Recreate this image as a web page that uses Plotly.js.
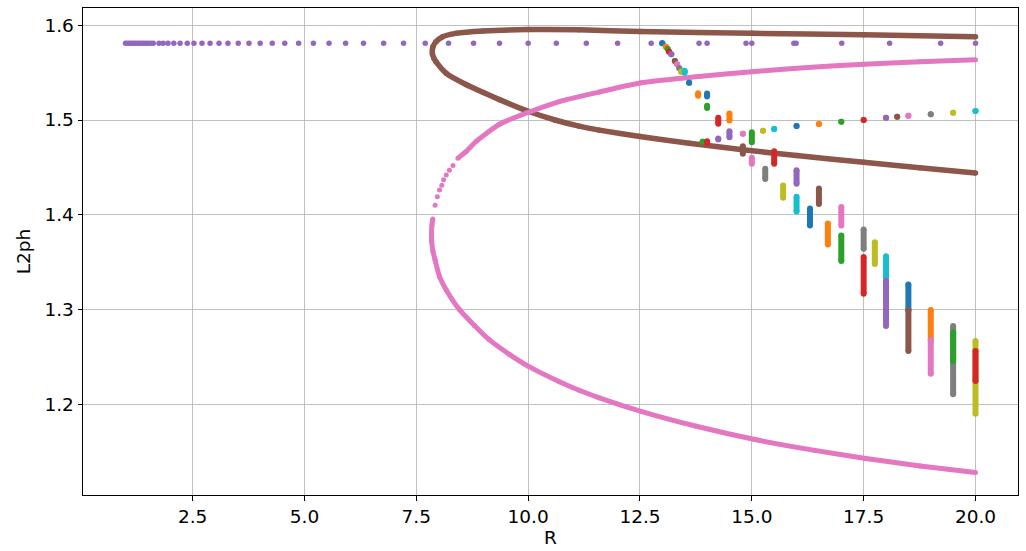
<!DOCTYPE html>
<html>
<head>
<meta charset="utf-8">
<script src="https://cdn.plot.ly/plotly-3.0.1.min.js"></script>
<style>
  html, body { margin: 0; padding: 0; background: #ffffff; }
  #chart { width: 1026px; height: 551px; }
</style>
</head>
<body>
<div id="chart"></div>
<script>
// Trivial branch: L2ph stays flat across R
const trivialR = [1.0, 1.04, 1.09, 1.13, 1.18, 1.22, 1.27, 1.31, 1.36, 1.41, 1.46, 1.51, 1.57, 1.62,
  1.75, 1.84, 1.95, 2.08, 2.22, 2.38, 2.53, 2.71, 2.89, 3.09, 3.29, 3.52, 3.76, 4.01, 4.28, 4.56,
  4.87, 5.2, 5.55, 5.92, 6.32, 6.77, 7.215, 7.7, 8.22, 8.78, 9.36, 10.0, 10.63, 11.3, 12.0, 12.75,
  12.99, 13.82, 14.0, 14.87, 15.0, 15.94, 15.99, 17.01, 18.08, 19.22, 20.0];
const trivialL2ph = 1.581;

// Fold branch (brown), traced from the upper-right end round the turning point to the lower-right end
const foldR = [20.0, 17.5, 15.0, 12.5, 11.14, 10.0, 8.99, 8.39, 8.09, 7.94, 7.87, 7.86, 7.89, 7.94,
  8.17, 8.61, 9.0, 9.36, 10.0, 10.6, 11.14, 11.59, 12.5, 13.6, 14.8, 16.0, 17.5, 18.75, 20.0];
const foldL2ph = [1.588, 1.590, 1.5915, 1.5935, 1.5953, 1.5955, 1.594, 1.5915, 1.588, 1.5827, 1.577,
  1.570, 1.5655, 1.5616, 1.5493, 1.5375, 1.529, 1.5215, 1.5092, 1.500, 1.4935, 1.4893, 1.4825,
  1.4755, 1.4685, 1.4625, 1.4553, 1.4495, 1.444];

// Second fold branch (pink): dense lower part, sparse points near the turn, dense upper part
const bendLowR = [7.87, 7.85, 7.84, 7.845, 7.87, 7.92, 8.02, 8.17, 8.46, 8.8, 9.13, 9.58, 10.0,
  10.7, 11.14, 11.59, 12.54, 13.76, 15.07, 16.41, 17.55, 18.76, 20.0];
const bendLowL2ph = [1.3955, 1.389, 1.381, 1.372, 1.362, 1.352, 1.3345, 1.3205, 1.300, 1.283, 1.268,
  1.2525, 1.240, 1.2235, 1.2145, 1.2065, 1.192, 1.1765, 1.1625, 1.151, 1.1425, 1.1345, 1.1276];
const bendSparseR = [7.92, 7.97, 8.02, 8.07, 8.11, 8.17, 8.24, 8.32];
const bendSparseL2ph = [1.410, 1.419, 1.426, 1.431, 1.437, 1.442, 1.447, 1.452];
const bendHighR = [8.43, 8.61, 8.84, 9.36, 10.0, 10.7, 11.59, 12.5, 13.82, 15.0, 16.25, 17.5, 18.75,
  20.0];
const bendHighL2ph = [1.4595, 1.4665, 1.4775, 1.4955, 1.508, 1.5195, 1.5295, 1.539, 1.546, 1.551,
  1.5555, 1.5588, 1.5615, 1.5637];

// Solution clusters: for each R, the highest and lowest L2ph found, and the series it belongs to
const clusterR = [13.0, 13.08, 13.12, 13.15, 13.2, 13.28, 13.33, 13.38, 13.42, 13.5, 13.6, 13.8,
  14.0, 14.0, 13.9, 14.0, 14.25, 14.25, 14.5, 14.5, 14.8, 14.8, 15.0, 15.0, 15.25, 15.3, 15.5, 15.5,
  15.7, 16.0, 16.0, 16.0, 16.3, 16.5, 16.5, 16.7, 17.0, 17.0, 17.0, 17.5, 17.5, 17.5, 17.75, 18.0,
  18.0, 18.0, 18.25, 18.5, 18.5, 18.5, 19.0, 19.0, 19.0, 19.5, 19.5, 19.5, 20.0, 20.0, 20.0];
const clusterHigh = [1.581, 1.5774, 1.575, 1.572, 1.5694, 1.5623, 1.5588, 1.5546, 1.551, 1.552,
  1.5394, 1.5283, 1.528, 1.515, 1.477, 1.4775, 1.5023, 1.4805, 1.5068, 1.4882, 1.4855, 1.4724,
  1.487, 1.460, 1.4887, 1.4484, 1.4905, 1.467, 1.4308, 1.4937, 1.447, 1.4188, 1.4065, 1.4958,
  1.4276, 1.3907, 1.4982, 1.408, 1.378, 1.500, 1.3843, 1.3552, 1.371, 1.5024, 1.3562, 1.3303,
  1.5035, 1.5045, 1.3263, 1.2993, 1.506, 1.2992, 1.2677, 1.5077, 1.2823, 1.2759, 1.5095, 1.2665,
  1.2559];
const clusterLow = [1.581, 1.5774, 1.575, 1.572, 1.5694, 1.5623, 1.5588, 1.5546, 1.551, 1.550,
  1.5394, 1.5256, 1.5248, 1.5128, 1.477, 1.4755, 1.496, 1.4795, 1.4995, 1.4819, 1.4855, 1.4643,
  1.4766, 1.4537, 1.4887, 1.4378, 1.4905, 1.4537, 1.4178, 1.4937, 1.4326, 1.4034, 1.3886, 1.4958,
  1.4114, 1.3686, 1.4982, 1.3886, 1.351, 1.500, 1.3639, 1.3164, 1.348, 1.5024, 1.3303, 1.2823,
  1.5035, 1.5045, 1.2993, 1.2559, 1.506, 1.2677, 1.2319, 1.5077, 1.2102, 1.2453, 1.5095, 1.1897,
  1.2242];
const clusterSeries = [0, 1, 2, 3, 4, 5, 6, 7, 8, 9, 0, 1, 0, 2, 2, 3, 3, 4, 1, 4, 6, 5, 2, 6, 8,
  7, 9, 3, 8, 0, 4, 9, 0, 1, 5, 1, 2, 6, 2, 3, 7, 3, 8, 4, 9, 4, 5, 6, 0, 5, 7, 1, 6, 8, 7, 2, 9,
  8, 3];

// Axis tick values
const rTicks = [2.5, 5.0, 7.5, 10.0, 12.5, 15.0, 17.5, 20.0];
const l2phTicks = [1.2, 1.3, 1.4, 1.5, 1.6];

const palette = ['#1f77b4', '#ff7f0e', '#2ca02c', '#d62728', '#9467bd',
                 '#8c564b', '#e377c2', '#7f7f7f', '#bcbd22', '#17becf'];

const traces = [];

traces.push({
  type: 'scatter', mode: 'markers',
  x: trivialR, y: trivialR.map(() => trivialL2ph),
  marker: { color: palette[4], size: 5.5 }
});

traces.push({
  type: 'scatter', mode: 'lines+markers',
  x: foldR, y: foldL2ph,
  line: { color: palette[5], width: 5.5, shape: 'spline', smoothing: 0.6 },
  marker: { color: palette[5], size: 5.5 }
});

traces.push({
  type: 'scatter', mode: 'lines+markers',
  x: bendLowR, y: bendLowL2ph,
  line: { color: palette[6], width: 5, shape: 'spline', smoothing: 0.6 },
  marker: { color: palette[6], size: 5 }
});
traces.push({
  type: 'scatter', mode: 'markers',
  x: bendSparseR, y: bendSparseL2ph,
  marker: { color: palette[6], size: 5 }
});
traces.push({
  type: 'scatter', mode: 'lines+markers',
  x: bendHighR, y: bendHighL2ph,
  line: { color: palette[6], width: 5, shape: 'spline', smoothing: 0.6 },
  marker: { color: palette[6], size: 5 }
});

clusterR.forEach((r, i) => {
  const c = palette[clusterSeries[i]];
  traces.push({
    type: 'scatter', mode: 'lines+markers',
    x: [r, r], y: [clusterHigh[i], clusterLow[i]],
    line: { color: c, width: 6 },
    marker: { color: c, size: 6 }
  });
});

const axisCommon = {
  showgrid: true, gridcolor: '#b0b0b0', gridwidth: 0.8,
  zeroline: false,
  showline: true, linecolor: '#000000', linewidth: 1, mirror: true,
  ticks: 'outside', ticklen: 4.5, tickwidth: 1, tickcolor: '#000000',
  tickfont: { family: 'DejaVu Sans', size: 18.5, color: '#000000' },
  automargin: false
};

const layout = {
  width: 1026, height: 551,
  margin: { l: 83, r: 8, t: 8, b: 56 },
  paper_bgcolor: '#ffffff', plot_bgcolor: '#ffffff',
  showlegend: false,
  hovermode: false,
  font: { family: 'DejaVu Sans', size: 18.5, color: '#000000' },
  xaxis: Object.assign({}, axisCommon, {
    range: [0.05, 20.95],
    tickvals: rTicks, ticktext: rTicks.map(v => v.toFixed(1)),
    title: { text: 'R', standoff: 5, font: { family: 'DejaVu Sans', size: 18.5, color: '#000000' } }
  }),
  yaxis: Object.assign({}, axisCommon, {
    range: [1.1039, 1.6183],
    tickvals: l2phTicks, ticktext: l2phTicks.map(v => v.toFixed(1)),
    title: { text: 'L2ph', standoff: 8, font: { family: 'DejaVu Sans', size: 18.5, color: '#000000' } }
  })
};

Plotly.newPlot('chart', traces, layout, { staticPlot: true, displayModeBar: false });
</script>
</body>
</html>
